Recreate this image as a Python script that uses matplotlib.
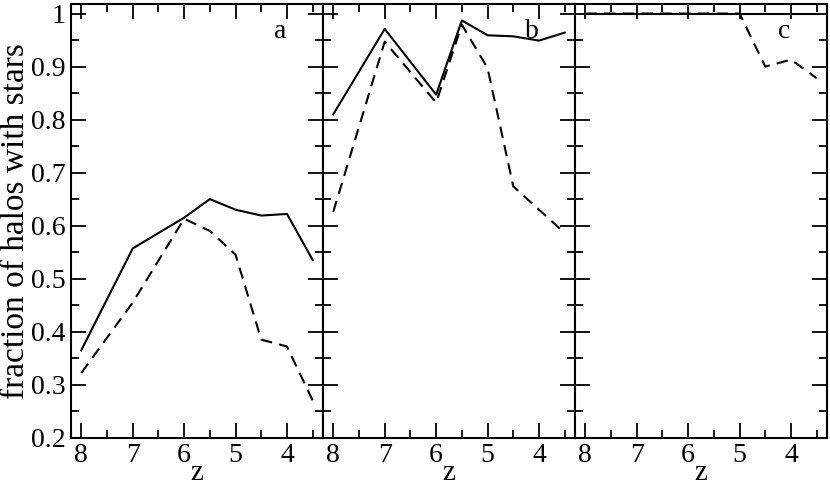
import numpy as np
import matplotlib
matplotlib.use("Agg")
import matplotlib.pyplot as plt
from matplotlib.ticker import MultipleLocator

plt.rcParams['font.family'] = ['Liberation Serif', 'DejaVu Serif']

# redshift grid shared by all panels
z = [8, 7, 6, 5.5, 5, 4.5, 4, 3.5]

# panel a
a_solid = [0.365, 0.557, 0.615, 0.650, 0.630, 0.619, 0.622, 0.535]
a_dash = [0.322, 0.455, 0.613, 0.590, 0.545, 0.385, 0.372, 0.270]
# panel b
b_solid = [0.810, 0.971, 0.847, 0.987, 0.959, 0.957, 0.949, 0.964]
b_dash = [0.626, 0.947, 0.832, 0.979, 0.897, 0.674, 0.630, 0.586]
# panel c
c_solid = [1.0, 1.0, 1.0, 1.0, 1.0, 1.0, 1.0, 1.0]
c_dash = [1.0, 1.0, 1.0, 1.0, 1.0, 0.900, 0.913, 0.878]

panels = [("a", a_solid, a_dash), ("b", b_solid, b_dash), ("c", c_solid, c_dash)]
xticks = [8, 7, 6, 5, 4]
yticks = [0.2, 0.3, 0.4, 0.5, 0.6, 0.7, 0.8, 0.9, 1.0]
ytick_labels = ["0.2", "0.3", "0.4", "0.5", "0.6", "0.7", "0.8", "0.9", "1"]

fig = plt.figure(figsize=(8.3, 4.87), dpi=100)
left, bottom, w, h = 71 / 830, 49.3 / 487, 252 / 830, 433.7 / 487

for i, (name, ys, yd) in enumerate(panels):
    ax = fig.add_axes([left + i * w, bottom, w, h])
    ax.plot(z, ys, color='black', lw=1.5)
    ax.plot(z, yd, color='black', lw=1.5, ls=(0, (5.5, 3.5)))
    ax.set_xlim(8.2, 3.3)
    ax.set_ylim(0.2, 1.018)
    ax.set_xticks(xticks)
    ax.xaxis.set_minor_locator(MultipleLocator(0.5))
    ax.yaxis.set_minor_locator(MultipleLocator(0.05))
    ax.set_yticks(yticks)
    if i == 0:
        ax.set_yticklabels(ytick_labels)
        ax.set_ylabel("fraction of halos with stars", fontsize=24, labelpad=0)
    else:
        ax.set_yticklabels([])
    ax.tick_params(which='both', direction='in', top=True, right=True,
                   width=1.3, labelsize=20, pad=4)
    ax.tick_params(which='major', length=11)
    ax.tick_params(which='minor', length=6)
    for s in ax.spines.values():
        s.set_linewidth(1.5)
    ax.text(0.83, 0.965, name, transform=ax.transAxes, fontsize=20,
            ha='center', va='top')
    # x label, baseline close to the bottom edge like the original
    fig.text(left + (i + 0.5) * w, 7 / 487, "z", fontsize=21,
             ha='center', va='baseline')

fig.savefig("out.png", dpi=100)
